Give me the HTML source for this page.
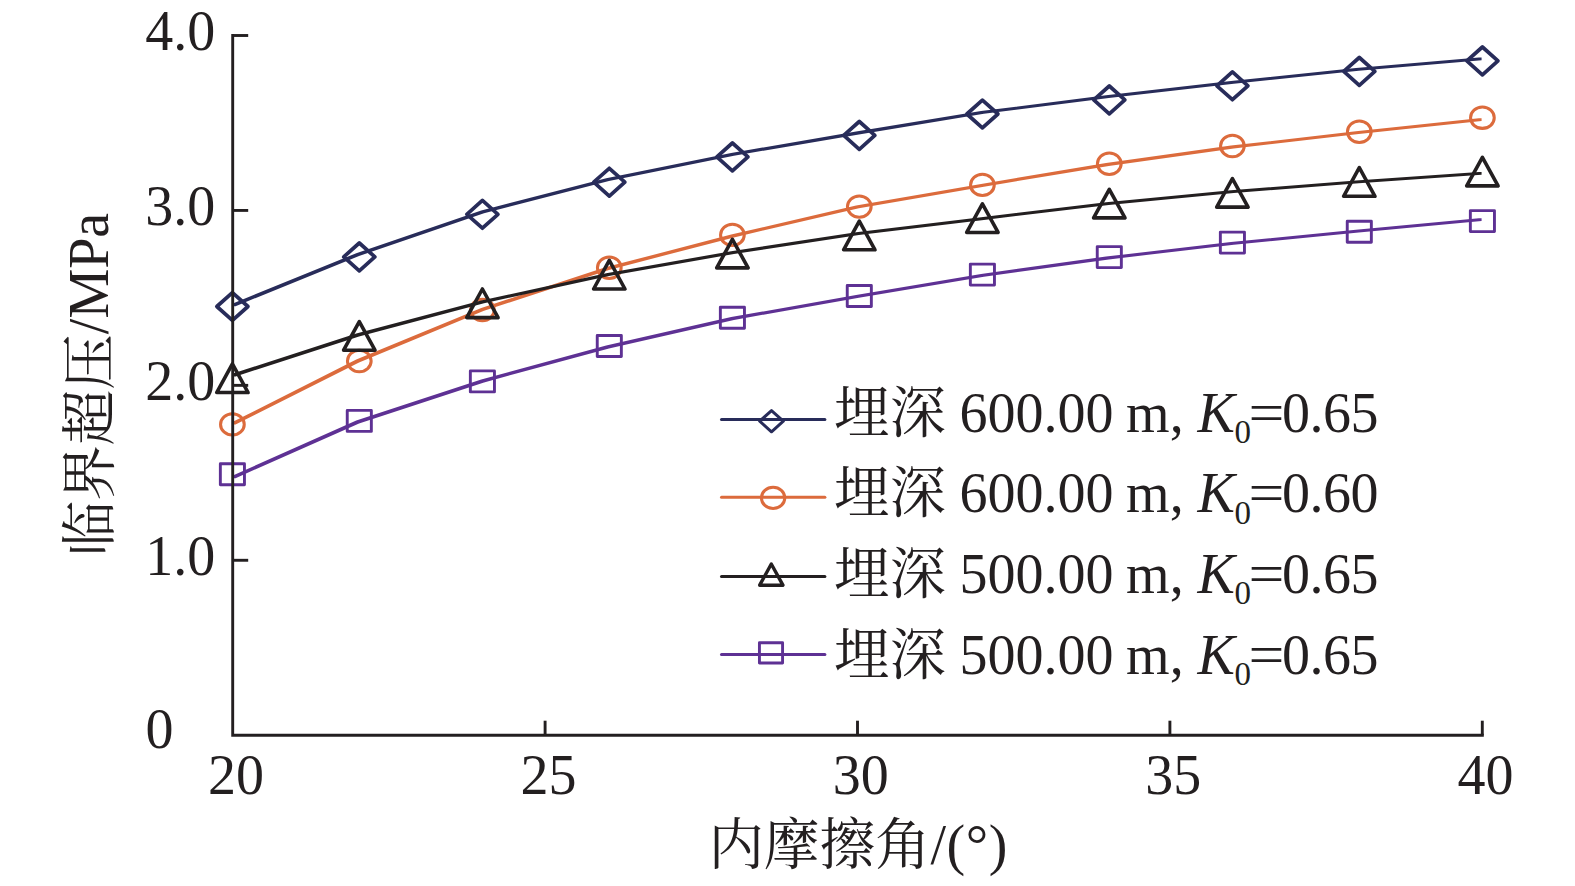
<!DOCTYPE html>
<html lang="zh"><head><meta charset="utf-8"><title>临界超压 - 内摩擦角</title>
<style>html,body{margin:0;padding:0;background:#fff}svg{display:block}</style></head>
<body>
<svg width="1575" height="886" viewBox="0 0 1575 886">
<rect width="1575" height="886" fill="#fff"/>
<path d="M232.82 306.18 L232.82 303.43 L356.28 253.22 L481.25 210.53 L606.20 178.22 L731.16 152.93 L856.12 131.62 L981.09 111.03 L1106.04 95.33 L1231.00 81.03 L1355.96 68.03 L1478.83 57.57 L1481.58 57.57 L1481.58 60.32 L1358.71 70.78 L1233.75 83.78 L1108.79 98.08 L983.84 113.78 L858.88 134.38 L733.91 155.68 L608.95 180.97 L484.00 213.28 L359.03 255.97 L235.57 306.18Z" fill="#282c5a" stroke="none"/>
<path d="M216.85 306.50 L232.40 292.60 L247.95 306.50 L232.40 320.40Z" fill="none" stroke="#282c5a" stroke-width="3.70" stroke-linejoin="round"/>
<path d="M343.75 256.90 L359.30 243.00 L374.85 256.90 L359.30 270.80Z" fill="none" stroke="#282c5a" stroke-width="3.70" stroke-linejoin="round"/>
<path d="M466.85 214.30 L482.40 200.40 L497.95 214.30 L482.40 228.20Z" fill="none" stroke="#282c5a" stroke-width="3.70" stroke-linejoin="round"/>
<path d="M593.75 182.20 L609.30 168.30 L624.85 182.20 L609.30 196.10Z" fill="none" stroke="#282c5a" stroke-width="3.70" stroke-linejoin="round"/>
<path d="M716.85 156.90 L732.40 143.00 L747.95 156.90 L732.40 170.80Z" fill="none" stroke="#282c5a" stroke-width="3.70" stroke-linejoin="round"/>
<path d="M843.75 135.40 L859.30 121.50 L874.85 135.40 L859.30 149.30Z" fill="none" stroke="#282c5a" stroke-width="3.70" stroke-linejoin="round"/>
<path d="M966.85 114.00 L982.40 100.10 L997.95 114.00 L982.40 127.90Z" fill="none" stroke="#282c5a" stroke-width="3.70" stroke-linejoin="round"/>
<path d="M1093.75 99.90 L1109.30 86.00 L1124.85 99.90 L1109.30 113.80Z" fill="none" stroke="#282c5a" stroke-width="3.70" stroke-linejoin="round"/>
<path d="M1216.85 85.80 L1232.40 71.90 L1247.95 85.80 L1232.40 99.70Z" fill="none" stroke="#282c5a" stroke-width="3.70" stroke-linejoin="round"/>
<path d="M1343.75 71.40 L1359.30 57.50 L1374.85 71.40 L1359.30 85.30Z" fill="none" stroke="#282c5a" stroke-width="3.70" stroke-linejoin="round"/>
<path d="M1466.85 60.90 L1482.40 47.00 L1497.95 60.90 L1482.40 74.80Z" fill="none" stroke="#282c5a" stroke-width="3.70" stroke-linejoin="round"/>
<path d="M232.82 424.57 L232.82 421.82 L356.28 359.62 L481.25 308.02 L606.20 267.12 L731.16 234.62 L856.12 205.43 L981.09 183.93 L1106.04 163.12 L1231.00 145.62 L1355.96 131.22 L1478.83 118.18 L1481.58 118.18 L1481.58 120.93 L1358.71 133.97 L1233.75 148.38 L1108.79 165.88 L983.84 186.68 L858.88 208.18 L733.91 237.38 L608.95 269.88 L484.00 310.77 L359.03 362.38 L235.57 424.57Z" fill="#dc6b3c" stroke="none"/>
<ellipse cx="232.40" cy="424.40" rx="11.85" ry="10.70" fill="none" stroke="#dc6b3c" stroke-width="3.05"/>
<ellipse cx="359.30" cy="361.00" rx="11.85" ry="10.70" fill="none" stroke="#dc6b3c" stroke-width="3.05"/>
<ellipse cx="482.40" cy="310.00" rx="11.85" ry="10.70" fill="none" stroke="#dc6b3c" stroke-width="3.05"/>
<ellipse cx="609.30" cy="267.70" rx="11.85" ry="10.70" fill="none" stroke="#dc6b3c" stroke-width="3.05"/>
<ellipse cx="732.40" cy="234.90" rx="11.85" ry="10.70" fill="none" stroke="#dc6b3c" stroke-width="3.05"/>
<ellipse cx="859.30" cy="206.60" rx="11.85" ry="10.70" fill="none" stroke="#dc6b3c" stroke-width="3.05"/>
<ellipse cx="982.40" cy="184.90" rx="11.85" ry="10.70" fill="none" stroke="#dc6b3c" stroke-width="3.05"/>
<ellipse cx="1109.30" cy="163.70" rx="11.85" ry="10.70" fill="none" stroke="#dc6b3c" stroke-width="3.05"/>
<ellipse cx="1232.40" cy="146.00" rx="11.85" ry="10.70" fill="none" stroke="#dc6b3c" stroke-width="3.05"/>
<ellipse cx="1359.30" cy="131.70" rx="11.85" ry="10.70" fill="none" stroke="#dc6b3c" stroke-width="3.05"/>
<ellipse cx="1482.40" cy="117.70" rx="11.85" ry="10.70" fill="none" stroke="#dc6b3c" stroke-width="3.05"/>
<path d="M232.82 376.38 L232.82 373.62 L356.28 333.62 L481.25 300.52 L606.20 273.23 L731.16 251.22 L856.12 232.22 L981.09 217.22 L1106.04 202.22 L1231.00 190.22 L1355.96 180.43 L1478.83 171.97 L1481.58 171.97 L1481.58 174.72 L1358.71 183.18 L1233.75 192.97 L1108.79 204.97 L983.84 219.97 L858.88 234.97 L733.91 253.97 L608.95 275.98 L484.00 303.27 L359.03 336.38 L235.57 376.38Z" fill="#231f20" stroke="none"/>
<path d="M232.40 363.95 L248.10 392.55 L216.70 392.55Z" fill="none" stroke="#231f20" stroke-width="3.60" stroke-linejoin="round"/>
<path d="M359.30 321.60 L375.00 350.20 L343.60 350.20Z" fill="none" stroke="#231f20" stroke-width="3.60" stroke-linejoin="round"/>
<path d="M482.40 289.00 L498.10 317.60 L466.70 317.60Z" fill="none" stroke="#231f20" stroke-width="3.60" stroke-linejoin="round"/>
<path d="M609.30 260.40 L625.00 289.00 L593.60 289.00Z" fill="none" stroke="#231f20" stroke-width="3.60" stroke-linejoin="round"/>
<path d="M732.40 239.30 L748.10 267.90 L716.70 267.90Z" fill="none" stroke="#231f20" stroke-width="3.60" stroke-linejoin="round"/>
<path d="M859.30 221.20 L875.00 249.80 L843.60 249.80Z" fill="none" stroke="#231f20" stroke-width="3.60" stroke-linejoin="round"/>
<path d="M982.40 203.85 L998.10 232.45 L966.70 232.45Z" fill="none" stroke="#231f20" stroke-width="3.60" stroke-linejoin="round"/>
<path d="M1109.30 189.30 L1125.00 217.90 L1093.60 217.90Z" fill="none" stroke="#231f20" stroke-width="3.60" stroke-linejoin="round"/>
<path d="M1232.40 178.55 L1248.10 207.15 L1216.70 207.15Z" fill="none" stroke="#231f20" stroke-width="3.60" stroke-linejoin="round"/>
<path d="M1359.30 167.70 L1375.00 196.30 L1343.60 196.30Z" fill="none" stroke="#231f20" stroke-width="3.60" stroke-linejoin="round"/>
<path d="M1482.40 157.30 L1498.10 185.90 L1466.70 185.90Z" fill="none" stroke="#231f20" stroke-width="3.60" stroke-linejoin="round"/>
<path d="M232.82 478.18 L232.82 475.43 L356.28 420.62 L481.25 379.62 L606.20 345.62 L731.16 317.12 L856.12 294.93 L981.09 273.93 L1106.04 256.62 L1231.00 241.93 L1355.96 229.82 L1478.83 218.18 L1481.58 218.18 L1481.58 220.93 L1358.71 232.57 L1233.75 244.68 L1108.79 259.38 L983.84 276.68 L858.88 297.68 L733.91 319.88 L608.95 348.38 L484.00 382.38 L359.03 423.38 L235.57 478.18Z" fill="#5e3194" stroke="none"/>
<rect x="220.35" y="463.70" width="24.10" height="21.00" fill="none" stroke="#5e3194" stroke-width="2.90" stroke-linejoin="round"/>
<rect x="347.25" y="410.40" width="24.10" height="21.00" fill="none" stroke="#5e3194" stroke-width="2.90" stroke-linejoin="round"/>
<rect x="470.35" y="370.90" width="24.10" height="21.00" fill="none" stroke="#5e3194" stroke-width="2.90" stroke-linejoin="round"/>
<rect x="597.25" y="335.50" width="24.10" height="21.00" fill="none" stroke="#5e3194" stroke-width="2.90" stroke-linejoin="round"/>
<rect x="720.35" y="307.20" width="24.10" height="21.00" fill="none" stroke="#5e3194" stroke-width="2.90" stroke-linejoin="round"/>
<rect x="847.25" y="285.50" width="24.10" height="21.00" fill="none" stroke="#5e3194" stroke-width="2.90" stroke-linejoin="round"/>
<rect x="970.35" y="264.10" width="24.10" height="21.00" fill="none" stroke="#5e3194" stroke-width="2.90" stroke-linejoin="round"/>
<rect x="1097.25" y="246.60" width="24.10" height="21.00" fill="none" stroke="#5e3194" stroke-width="2.90" stroke-linejoin="round"/>
<rect x="1220.35" y="232.10" width="24.10" height="21.00" fill="none" stroke="#5e3194" stroke-width="2.90" stroke-linejoin="round"/>
<rect x="1347.25" y="221.20" width="24.10" height="21.00" fill="none" stroke="#5e3194" stroke-width="2.90" stroke-linejoin="round"/>
<rect x="1470.35" y="210.60" width="24.10" height="21.00" fill="none" stroke="#5e3194" stroke-width="2.90" stroke-linejoin="round"/>
<g stroke="#231f20" stroke-width="2.9" fill="none" stroke-linecap="butt">
<path d="M232.70 34.00 V735.20 H1483.80"/>
<path d="M232.70 560.28 H248.20"/>
<path d="M232.70 385.35 H248.20"/>
<path d="M232.70 210.42 H248.20"/>
<path d="M232.70 35.50 H248.20"/>
<path d="M545.10 735.20 V720.70"/>
<path d="M857.50 735.20 V720.70"/>
<path d="M1169.90 735.20 V720.70"/>
<path d="M1482.30 735.20 V720.70"/>
</g>
<g font-family='"Liberation Serif","Noto Serif CJK SC",serif' font-size="56" fill="#231f20">
<text x="145.6" y="748.30">0</text>
<text x="215.3" y="574.58" text-anchor="end">1.0</text>
<text x="215.3" y="399.65" text-anchor="end">2.0</text>
<text x="215.3" y="224.72" text-anchor="end">3.0</text>
<text x="215.3" y="49.80" text-anchor="end">4.0</text>
<text x="236.00" y="793.8" text-anchor="middle">20</text>
<text x="548.40" y="793.8" text-anchor="middle">25</text>
<text x="860.80" y="793.8" text-anchor="middle">30</text>
<text x="1173.20" y="793.8" text-anchor="middle">35</text>
<text x="1485.60" y="793.8" text-anchor="middle">40</text>
<text x="708.4" y="863.6"><tspan font-size="55.5" dy="0.6">内摩擦角</tspan><tspan dy="-0.6" letter-spacing="0.6">/(°)</tspan></text>
<text transform="translate(107.7 384.5) rotate(-90)" text-anchor="middle"><tspan font-size="55.5" dy="1.2">临界超压</tspan><tspan dy="-1.2">/MPa</tspan></text>
<text y="431.60"><tspan x="833.65">埋深 </tspan><tspan x="959.6">600.00 </tspan><tspan x="1126.1">m, </tspan><tspan x="1197.4" font-style="italic">K</tspan><tspan x="1234.4" dy="11.2" font-size="33">0</tspan><tspan x="1248.5" dy="-11.2" textLength="35.9" lengthAdjust="spacingAndGlyphs">=</tspan><tspan x="1281.9" letter-spacing="-0.5">0.65</tspan></text>
<text y="512.30"><tspan x="833.65">埋深 </tspan><tspan x="959.6">600.00 </tspan><tspan x="1126.1">m, </tspan><tspan x="1197.4" font-style="italic">K</tspan><tspan x="1234.4" dy="11.2" font-size="33">0</tspan><tspan x="1248.5" dy="-11.2" textLength="35.9" lengthAdjust="spacingAndGlyphs">=</tspan><tspan x="1281.9" letter-spacing="-0.5">0.60</tspan></text>
<text y="592.70"><tspan x="833.65">埋深 </tspan><tspan x="959.6">500.00 </tspan><tspan x="1126.1">m, </tspan><tspan x="1197.4" font-style="italic">K</tspan><tspan x="1234.4" dy="11.2" font-size="33">0</tspan><tspan x="1248.5" dy="-11.2" textLength="35.9" lengthAdjust="spacingAndGlyphs">=</tspan><tspan x="1281.9" letter-spacing="-0.5">0.65</tspan></text>
<text y="673.60"><tspan x="833.65">埋深 </tspan><tspan x="959.6">500.00 </tspan><tspan x="1126.1">m, </tspan><tspan x="1197.4" font-style="italic">K</tspan><tspan x="1234.4" dy="11.2" font-size="33">0</tspan><tspan x="1248.5" dy="-11.2" textLength="35.9" lengthAdjust="spacingAndGlyphs">=</tspan><tspan x="1281.9" letter-spacing="-0.5">0.65</tspan></text>
</g>
<path d="M721.5 419.50 H824.9" stroke="#282c5a" stroke-width="3" stroke-linecap="round" fill="none"/>
<path d="M759.68 421.20 L771.50 410.64 L783.32 421.20 L771.50 431.76Z" fill="none" stroke="#282c5a" stroke-width="3.00" stroke-linejoin="round"/>
<path d="M721.5 497.30 H824.9" stroke="#dc6b3c" stroke-width="3" stroke-linecap="round" fill="none"/>
<ellipse cx="773.10" cy="497.90" rx="11.67" ry="10.54" fill="none" stroke="#dc6b3c" stroke-width="3.00"/>
<path d="M721.5 576.60 H824.9" stroke="#231f20" stroke-width="3" stroke-linecap="round" fill="none"/>
<path d="M771.30 564.02 L782.92 585.18 L759.68 585.18Z" fill="none" stroke="#231f20" stroke-width="3.40" stroke-linejoin="round"/>
<path d="M721.5 654.60 H824.9" stroke="#5e3194" stroke-width="3" stroke-linecap="round" fill="none"/>
<rect x="759.43" y="642.82" width="23.14" height="20.16" fill="none" stroke="#5e3194" stroke-width="2.90" stroke-linejoin="round"/>
</svg>
</body></html>
